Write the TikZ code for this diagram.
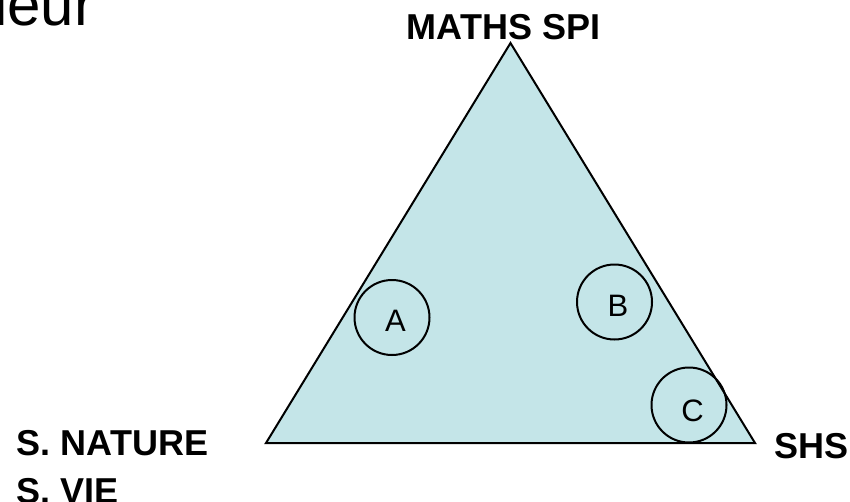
\documentclass[tikz,border=0pt]{standalone}
\usepackage{fontspec}
\setmainfont{Liberation Sans}
\usetikzlibrary{calc}
\definecolor{trifill}{RGB}{196,229,232}
\begin{document}
\begin{tikzpicture}[x=1pt,y=-1pt,
  lbl/.style={font=\fontsize{36}{48}\selectfont\bfseries, inner sep=0pt},
  ring/.style={circle, draw=black, line width=2pt, minimum size=75pt, inner sep=0pt},
  letter/.style={font=\fontsize{31}{36}\selectfont, inner sep=0pt}]
\useasboundingbox (0,0) rectangle (850,501);
\coordinate (top) at (510.5,43);
\coordinate (bl) at (266,443);
\coordinate (br) at (755,443);
\fill[trifill] (top) -- (bl) -- (br) -- cycle;
\node[ring] (ca) at (392,317.5) {};
\node[ring] (cb) at (614.5,302) {};
\node[ring] (cc) at (689,405) {};
\draw[line width=2pt, line join=miter] (top) -- (bl) -- (br) -- cycle;
\node[letter] (la) at ($(ca)+(3.5,3)$) {A};
\node[letter] (lb) at ($(cb)+(3.5,4)$) {B};
\node[letter] (lc) at ($(cc)+(3.5,6)$) {C};
\node[lbl, anchor=base] (maths) at (503.5,39) {MATHS SPI};
\node[lbl, anchor=base west] (nature) at (16.5,455) {S. NATURE};
\node[lbl, anchor=base west] (vie) at (16.5,503) {S. VIE};
\node[lbl, anchor=base west] (shs) at (774.5,458) {SHS};
\node[font=\fontsize{60}{72}\selectfont, inner sep=0pt, anchor=base west] (title) at (-6,25) {ieur};
\end{tikzpicture}
\end{document}
